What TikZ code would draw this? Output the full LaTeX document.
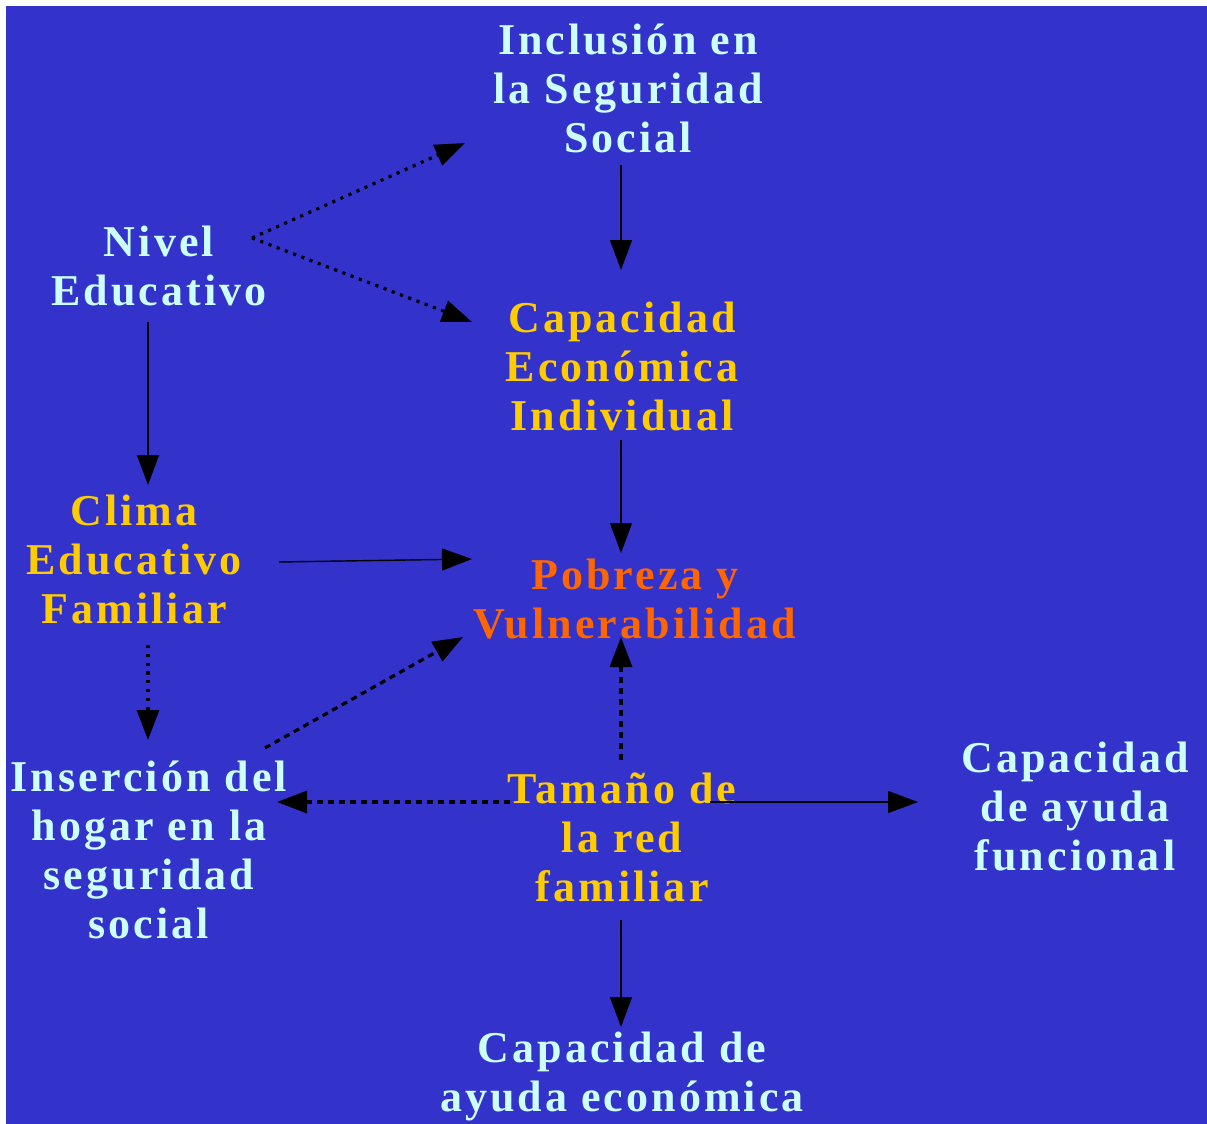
\documentclass[tikz,border=0pt]{standalone}
\usepackage{fontspec}
\newfontfamily\dfont[LetterSpace=7]{Liberation Serif}
\usetikzlibrary{arrows.meta,calc}
\definecolor{bgblue}{RGB}{51,51,204}
\definecolor{tcyan}{RGB}{204,255,255}
\definecolor{tyellow}{RGB}{255,204,0}
\definecolor{torange}{RGB}{255,102,0}
\begin{document}
\begin{tikzpicture}[x=1pt,y=-1pt,
  lbl/.style={align=center, inner sep=0pt, font=\dfont\bfseries\fontsize{44}{49}\selectfont},
  cy/.style={lbl, text=tcyan},
  ye/.style={lbl, text=tyellow},
  orn/.style={lbl, text=torange},
  arr/.style={-{Triangle[length=30pt,width=22pt]}, black},
  solidl/.style={arr, line width=1.4pt},
  dotl/.style={arr, line width=3.2pt, dash pattern=on 3.2pt off 5.6pt},
  dashl/.style={arr, line width=3.2pt, dash pattern=on 6pt off 5pt}]
\useasboundingbox (0,0) rectangle (1207,1124);
\fill[white] (0,0) rectangle (1207,1124);
\fill[bgblue] (6,6) rectangle (1207,1124);

\node[cy] (inc) at (628,88) {Inclusión en\\la Seguridad\\Social};
\node[cy] (niv) at (159,266) {Nivel\\Educativo};
\node[ye] (cap) at (622,366) {Capacidad\\Económica\\Individual};
\node[ye] (cli) at (134,559) {Clima\\Educativo\\Familiar};
\node[orn] (pob) at (635,599) {Pobreza y\\Vulnerabilidad};
\node[cy] (ins) at (149,850) {Inserción del\\hogar en la\\seguridad\\social};
\node[ye] (tam) at (622,837) {Tamaño de\\la red\\familiar};
\node[cy] (fun) at (1075,806) {Capacidad\\de ayuda\\funcional};
\node[cy] (eco) at (622,1076) {Capacidad de\\ayuda económica};

\draw[dotl] ($(niv)+(93,-28)$) -- ($(inc)+(-163,55)$);
\draw[dotl] ($(niv)+(93,-28)$) -- ($(cap)+(-150,-44)$);
\draw[solidl] ($(inc)+(-7,77)$) -- ($(cap)+(-1,-96)$);
\draw[solidl] ($(niv)+(-11,56)$) -- ($(cli)+(14,-74)$);
\draw[solidl] ($(cap)+(-1,74)$) -- ($(pob)+(-14,-46)$);
\draw[solidl] ($(cli)+(145,3)$) -- ($(pob)+(-163,-40)$);
\draw[dotl] ($(cli)+(14,86)$) -- ($(ins)+(-1,-110)$);
\draw[dashl] ($(ins)+(116,-102)$) -- ($(pob)+(-172,38)$);
\draw[dashl] ($(tam)+(-1,-77)$) -- ($(pob)+(-14,38)$);
\draw[dashl] ($(tam)+(-112,-35)$) -- ($(ins)+(128,-48)$);
\draw[solidl] ($(tam)+(88,-35)$) -- ($(fun)+(-157,-4)$);
\draw[solidl] ($(tam)+(-1,83)$) -- ($(eco)+(-1,-49)$);
\end{tikzpicture}
\end{document}
